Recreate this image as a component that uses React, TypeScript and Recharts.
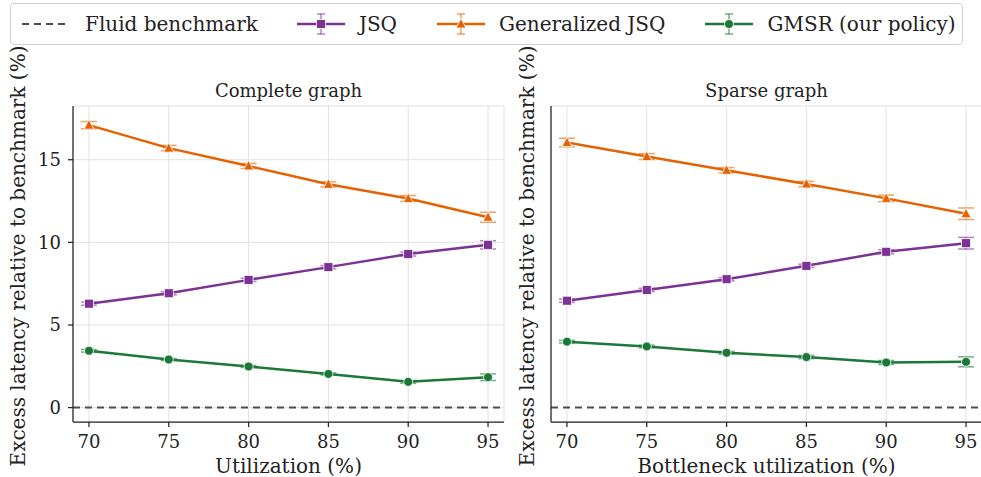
import {
  CartesianGrid,
  ErrorBar,
  Line,
  LineChart,
  ReferenceLine,
  XAxis,
  YAxis,
} from "recharts"

const FONT = "'DejaVu Serif', serif"
const PURPLE = "#7b3294"
const ORANGE = "#e66101"
const GREEN = "#1b7837"
const INK = "#222222"

const UTILIZATION = [70, 75, 80, 85, 90, 95]
const Y_TICKS = [0, 5, 10, 15]

// Complete graph
const COMPLETE_JSQ = [6.29, 6.92, 7.73, 8.5, 9.29, 9.85]
const COMPLETE_JSQ_ERR = [0.1, 0.1, 0.1, 0.1, 0.12, 0.25]
const COMPLETE_GJSQ = [17.09, 15.7, 14.62, 13.51, 12.65, 11.52]
const COMPLETE_GJSQ_ERR = [0.22, 0.16, 0.15, 0.15, 0.18, 0.3]
const COMPLETE_GMSR = [3.44, 2.91, 2.49, 2.04, 1.56, 1.84]
const COMPLETE_GMSR_ERR = [0.08, 0.06, 0.06, 0.06, 0.08, 0.2]

// Sparse graph
const SPARSE_JSQ = [6.47, 7.12, 7.77, 8.58, 9.43, 9.95]
const SPARSE_JSQ_ERR = [0.1, 0.1, 0.1, 0.1, 0.12, 0.35]
const SPARSE_GJSQ = [16.04, 15.19, 14.36, 13.53, 12.66, 11.73]
const SPARSE_GJSQ_ERR = [0.26, 0.18, 0.16, 0.16, 0.2, 0.35]
const SPARSE_GMSR = [3.99, 3.7, 3.32, 3.06, 2.73, 2.77]
const SPARSE_GMSR_ERR = [0.08, 0.08, 0.08, 0.1, 0.12, 0.3]

function buildRows(
  jsq: number[],
  jsqErr: number[],
  gjsq: number[],
  gjsqErr: number[],
  gmsr: number[],
  gmsrErr: number[]
) {
  return UTILIZATION.map((u, i) => ({
    u,
    jsq: jsq[i],
    jsqErr: jsqErr[i],
    gjsq: gjsq[i],
    gjsqErr: gjsqErr[i],
    gmsr: gmsr[i],
    gmsrErr: gmsrErr[i],
  }))
}

const completeRows = buildRows(
  COMPLETE_JSQ,
  COMPLETE_JSQ_ERR,
  COMPLETE_GJSQ,
  COMPLETE_GJSQ_ERR,
  COMPLETE_GMSR,
  COMPLETE_GMSR_ERR
)
const sparseRows = buildRows(
  SPARSE_JSQ,
  SPARSE_JSQ_ERR,
  SPARSE_GJSQ,
  SPARSE_GJSQ_ERR,
  SPARSE_GMSR,
  SPARSE_GMSR_ERR
)

type DotProps = { cx?: number; cy?: number; index?: number }

function SquareDot({ cx, cy, index }: DotProps) {
  if (cx == null || cy == null) return null
  return (
    <rect
      key={index}
      x={cx - 4.5}
      y={cy - 4.5}
      width={9}
      height={9}
      fill={PURPLE}
      stroke="#fff"
      strokeWidth={0.8}
    />
  )
}

function TriangleDot({ cx, cy, index }: DotProps) {
  if (cx == null || cy == null) return null
  return (
    <path
      key={index}
      d={`M${cx},${cy - 5.5} L${cx + 5},${cy + 4} L${cx - 5},${cy + 4} Z`}
      fill={ORANGE}
      stroke="#fff"
      strokeWidth={0.8}
    />
  )
}

function CircleDot({ cx, cy, index }: DotProps) {
  if (cx == null || cy == null) return null
  return (
    <circle
      key={index}
      cx={cx}
      cy={cy}
      r={4.5}
      fill={GREEN}
      stroke="#fff"
      strokeWidth={0.8}
    />
  )
}

type TickProps = {
  x?: number
  y?: number
  payload?: { value: number }
  textAnchor?: string
}

function XTick({ x, y, payload }: TickProps) {
  return (
    <text
      x={x}
      y={(y ?? 0) + 13}
      textAnchor="middle"
      fontSize={18}
      fontFamily={FONT}
      fill={INK}
    >
      {payload?.value}
    </text>
  )
}

function YTick({ x, y, payload }: TickProps) {
  return (
    <text
      x={x}
      y={y}
      textAnchor="end"
      dominantBaseline="central"
      fontSize={18}
      fontFamily={FONT}
      fill={INK}
    >
      {payload?.value}
    </text>
  )
}

interface PanelProps {
  rows: ReturnType<typeof buildRows>
  title: string
  xLabel: string
  left: number
  width: number
  axisWidth: number
  rightPad: number
  yLabelX: number
  showTickLabels: boolean
}

function Panel({
  rows,
  title,
  xLabel,
  left,
  width,
  axisWidth,
  rightPad,
  yLabelX,
  showTickLabels,
}: PanelProps) {
  return (
    <div style={{ position: "absolute", left, top: 0, width, height: 477 }}>
      <div
        style={{
          position: "absolute",
          left: axisWidth,
          width: width - axisWidth - rightPad,
          top: 80,
          lineHeight: "22px",
          textAlign: "center",
          fontSize: 18,
          fontFamily: FONT,
          color: INK,
        }}
      >
        {title}
      </div>
      <LineChart
        width={width}
        height={477}
        data={rows}
        margin={{ top: 106, right: rightPad, bottom: 0, left: 0 }}
        style={{ fontFamily: FONT }}
      >
        <CartesianGrid stroke="#e2e2e2" strokeWidth={1} />
        <XAxis
          dataKey="u"
          type="number"
          domain={[69, 96]}
          ticks={UTILIZATION}
          allowDataOverflow
          height={55}
          tickSize={5}
          tickMargin={8}
          stroke="#262626"
          strokeWidth={1.25}
          tick={<XTick />}
          label={{
            value: xLabel,
            position: "insideBottom",
            offset: 4,
            fontSize: 20,
            fill: INK,
            fontFamily: FONT,
          }}
        />
        <YAxis
          type="number"
          domain={[-0.87, 18.25]}
          ticks={Y_TICKS}
          allowDataOverflow
          width={axisWidth}
          tickSize={5}
          tickMargin={7}
          stroke="#262626"
          strokeWidth={1.25}
          tick={showTickLabels ? <YTick /> : false}
          label={{
            content: () => (
              <text
                x={yLabelX}
                y={256}
                transform={`rotate(-90 ${yLabelX} 256)`}
                textAnchor="middle"
                dominantBaseline="central"
                fontSize={20}
                fontFamily={FONT}
                fill={INK}
              >
                Excess latency relative to benchmark (%)
              </text>
            ),
          }}
        />
        <ReferenceLine
          y={0}
          stroke="#4d4d4d"
          strokeWidth={2}
          strokeDasharray="7 5"
        />
        <Line
          dataKey="jsq"
          stroke={PURPLE}
          strokeWidth={2.5}
          dot={SquareDot}
          activeDot={false}
          isAnimationActive={false}
        >
          <ErrorBar
            dataKey="jsqErr"
            direction="y"
            width={8}
            stroke={PURPLE}
            strokeOpacity={0.6}
            strokeWidth={1.5}
          />
        </Line>
        <Line
          dataKey="gjsq"
          stroke={ORANGE}
          strokeWidth={2.5}
          dot={TriangleDot}
          activeDot={false}
          isAnimationActive={false}
        >
          <ErrorBar
            dataKey="gjsqErr"
            direction="y"
            width={8}
            stroke={ORANGE}
            strokeOpacity={0.6}
            strokeWidth={1.5}
          />
        </Line>
        <Line
          dataKey="gmsr"
          stroke={GREEN}
          strokeWidth={2.5}
          dot={CircleDot}
          activeDot={false}
          isAnimationActive={false}
        >
          <ErrorBar
            dataKey="gmsrErr"
            direction="y"
            width={8}
            stroke={GREEN}
            strokeOpacity={0.6}
            strokeWidth={1.5}
          />
        </Line>
      </LineChart>
    </div>
  )
}

function Handle({ color, marker }: { color: string; marker: string }) {
  return (
    <svg width={48} height={24} style={{ display: "block" }}>
      <line x1={0} x2={48} y1={12} y2={12} stroke={color} strokeWidth={2.5} />
      <g stroke={color} strokeOpacity={0.6} strokeWidth={1.5}>
        <line x1={24} x2={24} y1={2} y2={22} />
        <line x1={20} x2={28} y1={2} y2={2} />
        <line x1={20} x2={28} y1={22} y2={22} />
      </g>
      {marker === "square" && (
        <rect x={19.5} y={7.5} width={9} height={9} fill={color} stroke="#fff" strokeWidth={0.8} />
      )}
      {marker === "triangle" && (
        <path d="M24,6.5 L29,16 L19,16 Z" fill={color} stroke="#fff" strokeWidth={0.8} />
      )}
      {marker === "circle" && (
        <circle cx={24} cy={12} r={4.5} fill={color} stroke="#fff" strokeWidth={0.8} />
      )}
    </svg>
  )
}

const LEGEND = [
  { label: "JSQ", color: PURPLE, marker: "square" },
  { label: "Generalized JSQ", color: ORANGE, marker: "triangle" },
  { label: "GMSR (our policy)", color: GREEN, marker: "circle" },
]

function Legend() {
  const text = { fontSize: 20, fontFamily: FONT, color: INK, whiteSpace: "nowrap" as const }
  return (
    <div
      style={{
        position: "absolute",
        left: 10,
        top: 3,
        width: 940,
        height: 40,
        border: "1px solid #d0d0d0",
        borderRadius: 4,
        background: "#fff",
        display: "flex",
        alignItems: "center",
        paddingLeft: 11,
        boxSizing: "content-box",
      }}
    >
      <svg width={48} height={24} style={{ display: "block", marginRight: 15 }}>
        <line x1={0} x2={48} y1={12} y2={12} stroke="#4d4d4d" strokeWidth={2} strokeDasharray="7 5" />
      </svg>
      <span style={{ ...text, marginRight: 39 }}>Fluid benchmark</span>
      {LEGEND.map((item, i) => (
        <div key={item.label} style={{ display: "flex", alignItems: "center" }}>
          <div style={{ marginRight: 14 }}>
            <Handle color={item.color} marker={item.marker} />
          </div>
          <span style={{ ...text, marginRight: i < LEGEND.length - 1 ? 40 : 0 }}>
            {item.label}
          </span>
        </div>
      ))}
    </div>
  )
}

export default function App() {
  return (
    <div
      style={{
        position: "absolute",
        left: 0,
        top: 0,
        width: 981,
        height: 477,
        overflow: "hidden",
        background: "#fff",
        fontFamily: FONT,
      }}
    >
      <Panel
        rows={completeRows}
        title="Complete graph"
        xLabel="Utilization (%)"
        left={0}
        width={510}
        axisWidth={73}
        rightPad={6}
        yLabelX={18}
        showTickLabels
      />
      <Panel
        rows={sparseRows}
        title="Sparse graph"
        xLabel="Bottleneck utilization (%)"
        left={490}
        width={492}
        axisWidth={61}
        rightPad={0}
        yLabelX={37}
        showTickLabels={false}
      />
      <Legend />
    </div>
  )
}
